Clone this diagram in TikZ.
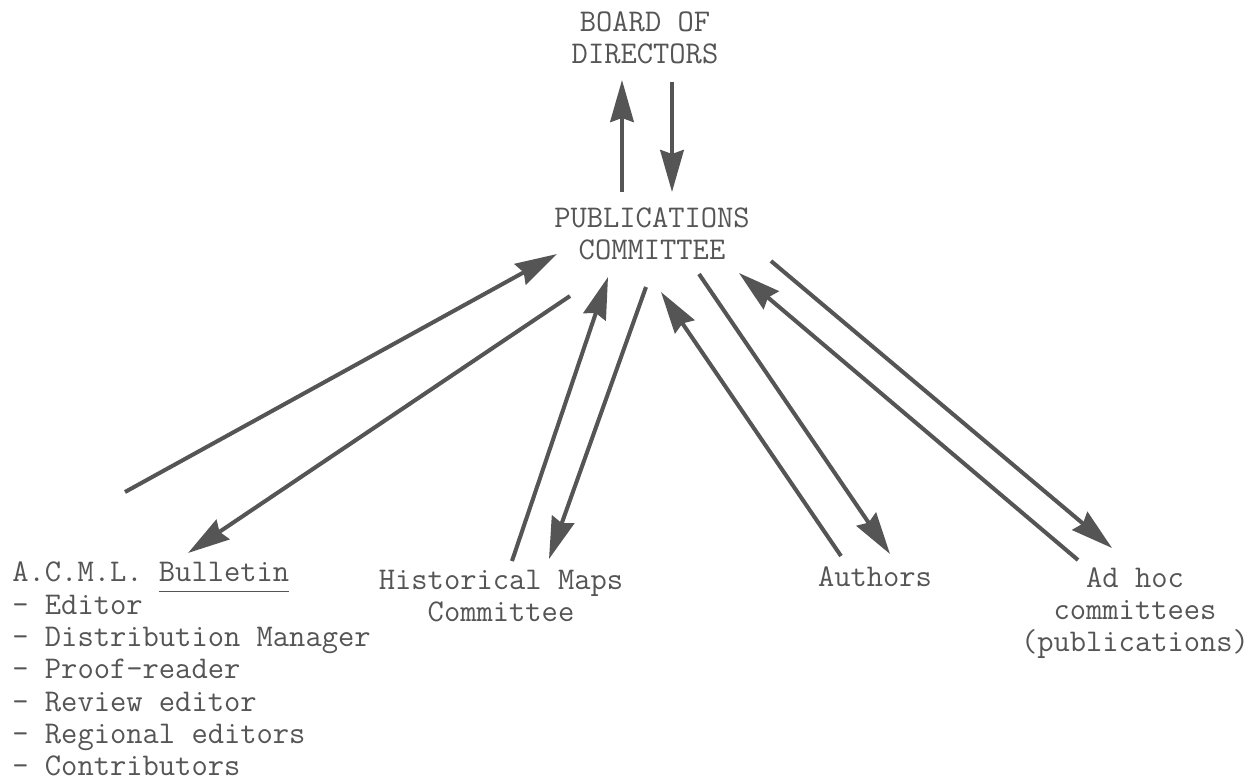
\documentclass[tikz,border=0pt]{standalone}
\usepackage{fontspec}
\usepackage{xcolor}
\usetikzlibrary{positioning,arrows.meta}

\definecolor{ink}{HTML}{555555}

\begin{document}
\begin{tikzpicture}[
  x=0.02cm, y=-0.02cm,
  every node/.style={font=\ttfamily\fontsize{18pt}{18.4pt}\selectfont, text=ink, inner sep=0pt},
  label/.style={align=center},
  listing/.style={align=left, anchor=west},
  arr/.style={-{Stealth[length=0.84cm, width=0.47cm, inset=0.08cm]}, line width=2.3pt, draw=ink},
]
\useasboundingbox (0,0) rectangle (1253,782);

\node[label] (board) at (645,38) {BOARD OF\\DIRECTORS};
\node[label] (pubs) at (652,234) {PUBLICATIONS\\COMMITTEE};
\node[listing] (bulletin) at (12,669) {A.C.M.L. \underline{Bulletin\vphantom{gp}}\\- Editor\\- Distribution Manager\\- Proof-reader\\- Review editor\\- Regional editors\\- Contributors};
\node[label] (hist) at (501,596) {Historical Maps\\Committee};
\node[label] (authors) at (875,577) {Authors};
\node[label] (adhoc) at (1135,613) {Ad hoc\\committees\\(publications)};

\coordinate (pubs-out) at (622,192);
\coordinate (board-in) at (622,80);
\coordinate (board-out) at (672,82);
\coordinate (pubs-in) at (672,192);
\coordinate (bul-s) at (125,492);
\coordinate (bul-t) at (557,254);
\coordinate (bul-s2) at (570,296);
\coordinate (bul-t2) at (188,553);
\coordinate (hist-s) at (512,561);
\coordinate (hist-t) at (608,277);
\coordinate (hist-s2) at (646,287);
\coordinate (hist-t2) at (549,559);
\coordinate (auth-s) at (841,556);
\coordinate (auth-t) at (661,292);
\coordinate (auth-s2) at (699,274);
\coordinate (auth-t2) at (890,554);
\coordinate (adhoc-s) at (1078,560);
\coordinate (adhoc-t) at (739,273);
\coordinate (adhoc-s2) at (771,261);
\coordinate (adhoc-t2) at (1112,548);

\draw[arr] (pubs-out) -- (board-in);
\draw[arr] (board-out) -- (pubs-in);
\draw[arr] (bul-s) -- (bul-t);
\draw[arr] (bul-s2) -- (bul-t2);
\draw[arr] (hist-s) -- (hist-t);
\draw[arr] (hist-s2) -- (hist-t2);
\draw[arr] (auth-s) -- (auth-t);
\draw[arr] (auth-s2) -- (auth-t2);
\draw[arr] (adhoc-s) -- (adhoc-t);
\draw[arr] (adhoc-s2) -- (adhoc-t2);
\end{tikzpicture}
\end{document}
